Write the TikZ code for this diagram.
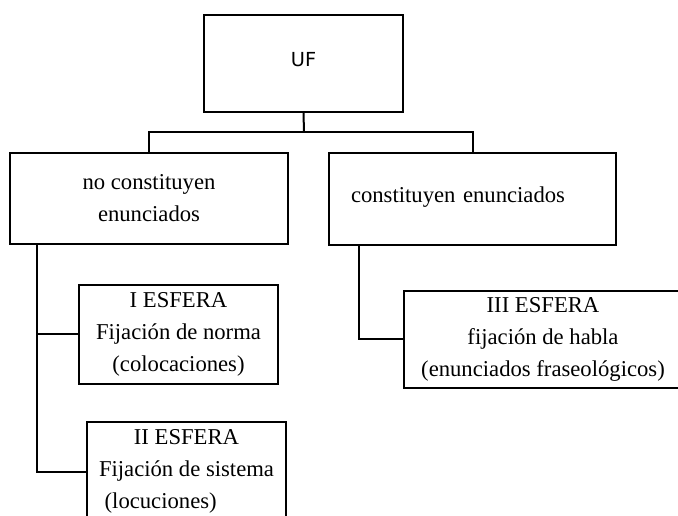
\documentclass[tikz,border=0pt]{standalone}
\usepackage{fontspec}
\setmainfont{Liberation Serif}
\newfontfamily\ufsans{DejaVu Sans}
\usepackage{tikz}
\usetikzlibrary{positioning}

\tikzset{
    esfbox/.style={draw, line width=1.5pt, align=center, inner sep=0pt, font=\fontsize{17}{24}\selectfont},
    rama/.style={line width=1.5pt}
}

\begin{document}
\begin{tikzpicture}[x=0.75pt, y=-0.75pt]
    \useasboundingbox (0,0) rectangle (678,516);
    \clip (0,0) rectangle (678,516);
    % Top level
    \node (uf) [esfbox, minimum width=149.25pt, minimum height=72.75pt, font=\ufsans\fontsize{14.5}{18}\selectfont, text depth=6.75pt] at (303.5,63.5) {UF};
    % Second level
    \node (no) [esfbox, minimum width=208.5pt, minimum height=68.25pt] at (149,198.5) {no constituyen\\enunciados};
    \node (si) [esfbox, minimum width=215.25pt, minimum height=69pt, text width=182.25pt, inner xsep=16.5pt, align=left, text depth=6pt] at (472.5,199) {constituyen enunciados};
    % Spheres
    \node (esfI) [esfbox, minimum width=149.25pt, minimum height=74.25pt] at (178.5,334.5) {I ESFERA\\Fijación de norma\\(colocaciones)};
    \node (esfII) [esfbox, minimum width=149.25pt, minimum height=74.25pt] at (186.5,471.5) {II ESFERA\\Fijación de sistema\\\rlap{\ (locuciones)}\phantom{Fijación de sistema}};
    \node (esfIII) [esfbox, minimum width=208.5pt, minimum height=72.75pt] at (543,339.5) {III ESFERA\\fijación de habla\\(enunciados fraseológicos)};
    % Connectors
    \coordinate (fork) at (304,132);
    \coordinate (noB) at (37,244);
    \coordinate (siB) at (359,245);
    \draw [rama] (uf.south) -- (fork);
    \draw [rama] (no.north) |- (fork) -| (si.north);
    \draw [rama] (noB) |- (esfI.west);
    \draw [rama] (noB) |- (esfII.west);
    \draw [rama] (siB) |- (esfIII.west);
\end{tikzpicture}
\end{document}
